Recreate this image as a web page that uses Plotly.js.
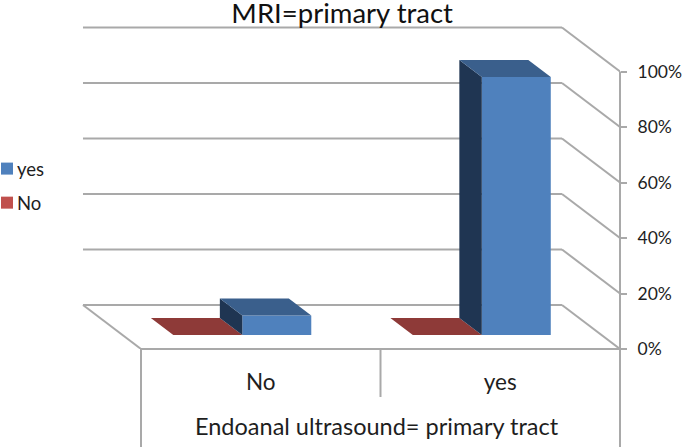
<!DOCTYPE html>
<html>
<head>
<meta charset="utf-8">
<script src="https://cdn.plot.ly/plotly-3.0.1.min.js"></script>
<style>html,body{margin:0;padding:0;background:#fff}#chart{width:685px;height:447px}</style>
</head>
<body>
<div id="chart"></div>
<script>
const categories = ['No', 'yes'];
const yesValues = [7, 93];
const noValues = [0, 0];
const percentTicks = [0, 20, 40, 60, 80, 100];
const percentLabels = ['0%', '20%', '40%', '60%', '80%', '100%'];

const FONT = 'Lato, "Open Sans", sans-serif';
const GRID = '#a9a9a9';
const TEXT = '#1e1e1e';

// Oblique projection of the chart box, in axis units
const depthX = -0.2422, depthY = 15.86;
const barFront = 0.318, barBack = 0.705, barWidth = 0.288;
const centres = categories.map((c, i) => i + 0.5);

function px(x, depth) { return x + depth * depthX; }
function py(v, depth) { return v + depth * depthY; }

function polygons(values, lead, faceFn) {
  const xs = [], ys = [];
  values.forEach((v, i) => {
    faceFn(centres[i] + lead, v).forEach(p => { xs.push(p[0]); ys.push(p[1]); });
    xs.push(null); ys.push(null);
  });
  return {x: xs, y: ys};
}
const topFace = (x0, v) => [
  [px(x0, barFront), py(v, barFront)],
  [px(x0 + barWidth, barFront), py(v, barFront)],
  [px(x0 + barWidth, barBack), py(v, barBack)],
  [px(x0, barBack), py(v, barBack)],
  [px(x0, barFront), py(v, barFront)]
];
const sideFace = (x0, v) => [
  [px(x0, barFront), py(0, barFront)],
  [px(x0, barFront), py(v, barFront)],
  [px(x0, barBack), py(v, barBack)],
  [px(x0, barBack), py(0, barBack)],
  [px(x0, barFront), py(0, barFront)]
];
function face(values, lead, fn, color) {
  const p = polygons(values, lead, fn);
  return {type: 'scatter', x: p.x, y: p.y, mode: 'none', fill: 'toself', fillcolor: color,
          showlegend: false, hoverinfo: 'skip'};
}
function front(name, values, lead, color, group) {
  return {type: 'bar', name: name, legendgroup: group,
          x: centres.map(c => px(c + lead + barWidth / 2, barFront)),
          y: values, base: values.map(() => py(0, barFront)), width: barWidth,
          marker: {color: color, line: {width: 0}}};
}

const data = [
  front('yes', yesValues, 0, '#4f81bd', 'a'),
  front('No', noValues, -barWidth, '#c0504d', 'b'),
  face(noValues, -barWidth, topFace, '#8e3a38'),
  face(yesValues, 0, sideFace, '#1f3552'),
  face(yesValues, 0, topFace, '#3a5f8c')
];

const lineStyle = {color: GRID, width: 2};
const seg = (x0, y0, x1, y1) => ({type: 'line', layer: 'below', xref: 'x', yref: 'y', x0, y0, x1, y1, line: lineStyle});
const drop = (x, ref, bottom) => ({type: 'line', layer: 'below', xref: ref, yref: 'paper', x0: x, x1: x, y0: 0, y1: bottom, line: lineStyle});
const shapes = [];
percentTicks.forEach(v => {
  shapes.push(seg(2, v, 2 + depthX, v + depthY));
  shapes.push(seg(depthX, v + depthY, 2 + depthX, v + depthY));
});
shapes.push(seg(0, 0, depthX, depthY));
// front floor edge, right-hand axis line and the category separators
shapes.push({type: 'line', layer: 'below', xref: 'x', yref: 'paper', x0: 0, x1: 2, y0: 0, y1: 0, line: lineStyle});
shapes.push({type: 'line', layer: 'below', xref: 'paper', yref: 'y', x0: 1, x1: 1, y0: 0, y1: 100, line: lineStyle});
shapes.push(drop(0, 'x', -0.2865), drop(1, 'x', -0.1375), drop(1, 'paper', -0.2865));

const layout = {
  width: 685, height: 447,
  margin: {l: 0, r: 65, t: 0, b: 98, pad: 0},
  paper_bgcolor: '#fff', plot_bgcolor: 'rgba(0,0,0,0)',
  font: {family: FONT, color: TEXT},
  title: {text: 'MRI=primary tract', font: {family: FONT, size: 27.5, color: '#111'},
          x: 0.4995, xref: 'container', xanchor: 'center', y: 0.992, yanchor: 'top', pad: {t: 0}},
  barmode: 'overlay',
  showlegend: true,
  legend: {x: 0, y: 0.570, xanchor: 'left', yanchor: 'top', font: {family: FONT, size: 18.5, color: TEXT},
           tracegroupgap: 7, bgcolor: 'rgba(0,0,0,0)', traceorder: 'grouped'},
  xaxis: {range: [-0.5887, 2], tickmode: 'array', tickvals: centres, ticktext: categories,
          ticks: 'outside', ticklen: 13, tickcolor: 'rgba(0,0,0,0)', showgrid: false, zeroline: false,
          showline: false, tickfont: {family: FONT, size: 22.5, color: TEXT}},
  yaxis: {range: [0, 125.77], side: 'right', tickmode: 'array', tickvals: percentTicks, ticktext: percentLabels,
          ticks: 'outside', ticklen: 6, tickcolor: GRID, tickwidth: 2, showgrid: false, zeroline: false,
          showline: false, ticklabelstandoff: 7, tickfont: {family: FONT, size: 17.5, color: TEXT}},
  annotations: [{text: 'Endoanal ultrasound= primary tract', xref: 'paper', yref: 'paper',
                 x: 0.6073, y: -0.2206, xanchor: 'center', yanchor: 'middle', showarrow: false,
                 font: {family: FONT, size: 23.5, color: TEXT}}],
  shapes: shapes
};

Plotly.newPlot('chart', data, layout, {displayModeBar: false, responsive: false}).then(gd => {
  // tighten the legend: swatch hard by the left edge, text close to the swatch
  const legend = gd.querySelector('.legend');
  const m = /translate\(([-\d.]+)[ ,]*([-\d.]+)?\)/.exec(legend.getAttribute('transform') || '');
  const ty = m && m[2] ? parseFloat(m[2]) : 0;
  legend.setAttribute('transform', 'translate(-13,' + ty + ')');
  legend.querySelectorAll('.legendtext').forEach(t => t.setAttribute('x', 30));
});
</script>
</body>
</html>
